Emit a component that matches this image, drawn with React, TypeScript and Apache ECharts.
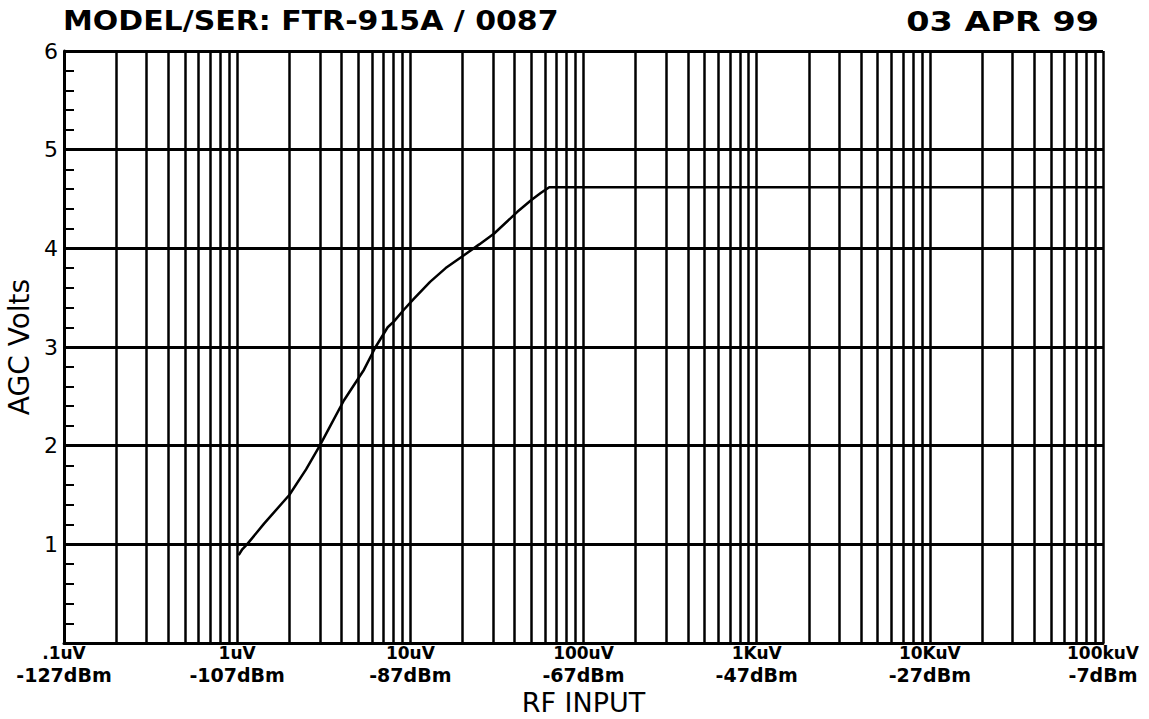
import React, { useEffect, useRef } from "react";
import * as echarts from "echarts";

// RF input (uV) vs AGC volts
const rfInputUv = [1.02, 1.07, 1.14, 1.43, 2.0, 2.5, 3.0, 3.5, 4.14, 5.4, 6.3, 7.4, 8.05, 9.2, 10.5, 13, 16, 20.4, 25, 30.5, 41.5, 50, 56.6, 63.4, 100000];
const agcVolts = [0.89, 0.95, 1.0, 1.21, 1.5, 1.76, 2.0, 2.22, 2.46, 2.77, 3.0, 3.2, 3.26, 3.38, 3.49, 3.66, 3.8, 3.93, 4.04, 4.15, 4.37, 4.49, 4.56, 4.62, 4.62];

const decades = [0.1, 1, 10, 100, 1000, 10000];
const minorMultipliers = [2, 3, 4, 5, 6, 7, 8, 9];
const voltLabels = [".1uV", "1uV", "10uV", "100uV", "1KuV", "10KuV", "100kuV"];
const dbmLabels = ["-127dBm", "-107dBm", "-87dBm", "-67dBm", "-47dBm", "-27dBm", "-7dBm"];

const titleLeft = "MODEL/SER: FTR-915A / 0087";
const titleRight = "03 APR 99";

export default function App() {
  const ref = useRef<HTMLDivElement>(null);
  useEffect(() => {
    if (!ref.current) return;
    const chart = echarts.init(ref.current, null, { renderer: "svg" });
    const minorLines: any[] = [];
    decades.forEach((d) => minorMultipliers.forEach((m) => minorLines.push({ xAxis: +(d * m).toPrecision(6) })));
    const font = "DejaVu Sans";
    chart.setOption({
      animation: false,
      backgroundColor: "#fff",
      grid: { left: 64, right: 46, top: 51, bottom: 76, outerBoundsMode: "none", containLabel: false },
      graphic: [
        {
          type: "text",
          x: 63,
          y: 8,
          scaleX: 1.11,
          style: { text: titleLeft, fontFamily: font, fontSize: 27, fontWeight: "bold", fill: "#000", textAlign: "left", textVerticalAlign: "top" },
        },
        {
          type: "text",
          x: 1099,
          y: 8,
          scaleX: 1.24,
          style: { text: titleRight, fontFamily: font, fontSize: 27, fontWeight: "bold", fill: "#000", textAlign: "right", textVerticalAlign: "top" },
        },
      ],
      xAxis: {
        type: "log",
        logBase: 10,
        min: 0.1,
        max: 100000,
        name: "RF INPUT",
        nameLocation: "middle",
        nameGap: 43,
        nameTextStyle: { fontFamily: font, fontSize: 27, color: "#000", lineHeight: 28 },
        axisLine: { show: true, lineStyle: { color: "#000", width: 3 } },
        axisTick: { show: false },
        splitLine: { show: true, lineStyle: { color: "#000", width: 2.5 } },
        axisLabel: {
          showMinLabel: true,
          showMaxLabel: true,
          margin: 0,
          formatter: (v: number) => {
            const i = Math.round(Math.log10(v)) + 1;
            return `{a|${voltLabels[i]}}\n{b|${dbmLabels[i]}}`;
          },
          rich: {
            a: { fontFamily: font, fontSize: 17, fontWeight: "bold", color: "#000", lineHeight: 20 },
            b: { fontFamily: font, fontSize: 19, fontWeight: "bold", color: "#000", lineHeight: 23 },
          },
        },
      },
      yAxis: {
        type: "value",
        min: 0,
        max: 6,
        interval: 1,
        name: "AGC Volts",
        nameLocation: "middle",
        nameGap: 26,
        nameRotate: 90,
        nameTextStyle: { fontFamily: font, fontSize: 28, color: "#000" },
        axisLine: { show: true, lineStyle: { color: "#000", width: 3 } },
        axisTick: { show: true, inside: true, length: 10, lineStyle: { color: "#000", width: 2 } },
        minorTick: { show: true, splitNumber: 5, length: 10, lineStyle: { color: "#000", width: 2 } },
        splitLine: { show: true, lineStyle: { color: "#000", width: 3 } },
        axisLabel: {
          margin: 6,
          fontFamily: font,
          fontSize: 22,
          color: "#000",
          formatter: (v: number) => (v === 0 ? "" : String(v)),
        },
      },
      series: [
        {
          type: "line",
          data: [],
          silent: true,
          markLine: {
            silent: true,
            symbol: "none",
            label: { show: false },
            lineStyle: { color: "#000", width: 2.5, type: "solid" },
            data: minorLines,
          },
        },
        {
          type: "line",
          data: rfInputUv.map((x, i) => [x, agcVolts[i]]),
          showSymbol: false,
          symbol: "none",
          smooth: false,
          lineStyle: { color: "#000", width: 2.5 },
          z: 5,
        },
      ],
    });
    return () => chart.dispose();
  }, []);
  return <div ref={ref} style={{ position: "fixed", left: 0, top: 0, width: 1149, height: 719 }} />;
}
